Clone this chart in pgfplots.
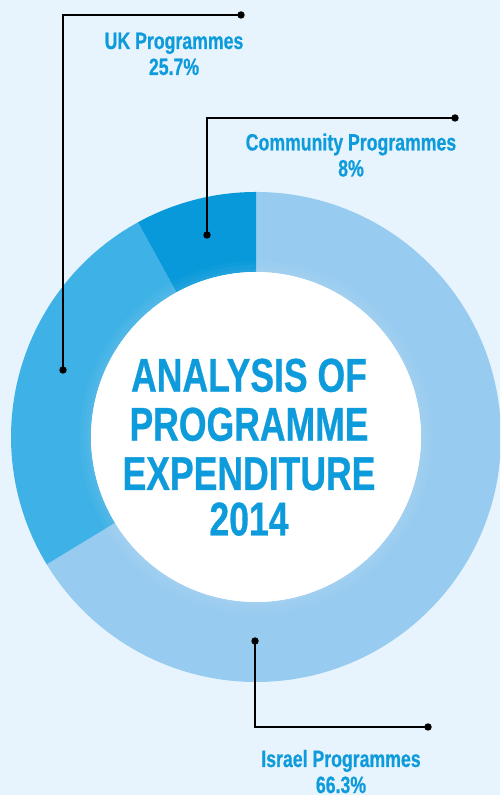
\documentclass[border=0pt]{standalone}
\usepackage{pgfplots}
\pgfplotsset{compat=1.18}
\usepackage{pgfplotstable}
\usepackage{fontspec}
\setmainfont{Liberation Sans}
\newfontfamily\condfont{Liberation Sans}[FakeStretch=0.75, FakeBold=0.6]
\definecolor{bgcol}{HTML}{E8F4FD}
\definecolor{israelcol}{HTML}{97CCF0}
\definecolor{ukcol}{HTML}{3EB1E6}
\definecolor{commcol}{HTML}{0799DA}
\definecolor{txtcol}{HTML}{0E9BDB}
% shares in percent, drawn clockwise from 12 o'clock
\pgfplotstableread{
name share
Israel 66.3
UK 25.7
Community 8.0
}\sharetable
\pgfplotstablegetelem{0}{share}\of\sharetable \let\sA\pgfplotsretval
\pgfplotstablegetelem{1}{share}\of\sharetable \let\sB\pgfplotsretval
\pgfplotstablegetelem{2}{share}\of\sharetable \let\sC\pgfplotsretval
\pgfmathsetmacro\aA{90}
\pgfmathsetmacro\aB{90-3.6*\sA}
\pgfmathsetmacro\aC{\aB-3.6*\sB}
\pgfmathsetmacro\aD{\aC-3.6*\sC}
\def\cx{256}\def\cy{358}\def\Ro{245}\def\Ri{165}
\newcommand\sector[3]{%
  \fill[#3] (axis cs:{\cx+\Ro*cos(#1)},{\cy+\Ro*sin(#1)})
    arc[start angle=#1, end angle=#2, radius=\Ro*0.5pt]
    -- (axis cs:{\cx+\Ri*cos(#2)},{\cy+\Ri*sin(#2)})
    arc[start angle=#2, end angle=#1, radius=\Ri*0.5pt] -- cycle;}
\begin{document}
\begin{tikzpicture}
\begin{axis}[
  x=0.5pt, y=0.5pt,
  xmin=0, xmax=500, ymin=0, ymax=795,
  enlargelimits=false, hide axis, clip=true,
  scale only axis,
]
\fill[bgcol] (axis cs:0,0) rectangle (axis cs:500,795);
\sector{\aA}{\aB}{israelcol}
\sector{\aB}{\aC}{ukcol}
\sector{\aC}{\aD}{commcol}
% subtle glow around the inner circle
\fill[white, opacity=0.035] (axis cs:\cx,\cy) circle[radius=88pt];
\fill[white, opacity=0.035] (axis cs:\cx,\cy) circle[radius=86pt];
\fill[white, opacity=0.035] (axis cs:\cx,\cy) circle[radius=84pt];
\fill[white] (axis cs:\cx,\cy) circle[radius=82.5pt];
% leader lines
\addplot[black, line width=0.65pt, mark=*, mark size=1.5pt, mark indices={1,3}]
  coordinates {(241,780) (63,780) (63,425)};
\addplot[black, line width=0.65pt, mark=*, mark size=1.5pt, mark indices={1,3}]
  coordinates {(455,677) (207,677) (207,560)};
\addplot[black, line width=0.65pt, mark=*, mark size=1.5pt, mark indices={1,3}]
  coordinates {(255,154) (255,68) (428,68)};
% labels
\node[text=txtcol, font=\condfont\bfseries\fontsize{11.8pt}{13pt}\selectfont, anchor=base, inner sep=0pt] at (axis cs:174,746) {UK Programmes};
\node[text=txtcol, font=\condfont\bfseries\fontsize{11.8pt}{13pt}\selectfont, anchor=base, inner sep=0pt] at (axis cs:174,720) {25.7\%};
\node[text=txtcol, font=\condfont\bfseries\fontsize{11.8pt}{13pt}\selectfont, anchor=base, inner sep=0pt] at (axis cs:351,644.5) {Community Programmes};
\node[text=txtcol, font=\condfont\bfseries\fontsize{11.8pt}{13pt}\selectfont, anchor=base, inner sep=0pt] at (axis cs:351,618.5) {8\%};
\node[text=txtcol, font=\condfont\bfseries\fontsize{11.8pt}{13pt}\selectfont, anchor=base, inner sep=0pt] at (axis cs:341,28) {Israel Programmes};
\node[text=txtcol, font=\condfont\bfseries\fontsize{11.8pt}{13pt}\selectfont, anchor=base, inner sep=0pt] at (axis cs:341,2) {66.3\%};
% centre title
\node[text=txtcol, font=\condfont\bfseries\fontsize{23.7pt}{26pt}\selectfont, anchor=base, inner sep=0pt] at (axis cs:249,403.3) {ANALYSIS OF};
\node[text=txtcol, font=\condfont\bfseries\fontsize{23.7pt}{26pt}\selectfont, anchor=base, inner sep=0pt] at (axis cs:249,354.3) {PROGRAMME};
\node[text=txtcol, font=\condfont\bfseries\fontsize{23.7pt}{26pt}\selectfont, anchor=base, inner sep=0pt] at (axis cs:249,305) {EXPENDITURE};
\node[text=txtcol, font=\condfont\bfseries\fontsize{23.7pt}{26pt}\selectfont, anchor=base, inner sep=0pt] at (axis cs:249,259.5) {2014};
\end{axis}
\end{tikzpicture}
\end{document}
